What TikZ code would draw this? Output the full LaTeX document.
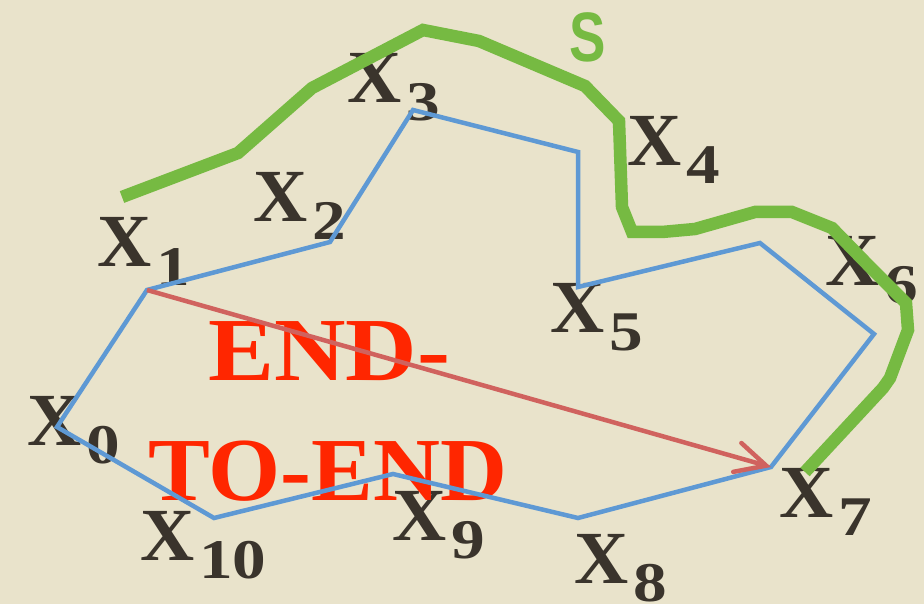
\documentclass[tikz,border=0pt]{standalone}
\usepackage{fontspec}
\setmainfont{Liberation Serif}
\setsansfont{Liberation Sans}
\usetikzlibrary{arrows.meta}
\definecolor{bg}{RGB}{233,227,203}
\definecolor{ink}{RGB}{58,52,44}
\definecolor{bl}{RGB}{94,153,212}
\definecolor{gr}{RGB}{118,186,66}
\definecolor{rl}{RGB}{208,98,94}
\definecolor{rt}{RGB}{255,38,0}
\newcommand\xlab[1]{{\fontsize{75}{75}\selectfont\bfseries X}\kern5pt\raisebox{-18pt}{\fontsize{56}{56}\selectfont\bfseries\scalebox{1.2}[1]{#1}}}
\tikzset{
  lab/.style={anchor=base west, inner sep=0pt, text=ink},
  bigred/.style={anchor=base west, inner sep=0pt, text=rt, font=\fontsize{90}{90}\selectfont\bfseries},
  polyline/.style={draw=bl, line width=4.5pt, line join=miter},
  endarrow/.style={draw=rl, line width=4.5pt, -{Straight Barb[length=30pt,width=30pt,line cap=round]}},
  sline/.style={draw=gr, line width=12.5pt, line join=miter},
}
\begin{document}
\begin{tikzpicture}[x=1pt,y=-1pt]
\fill[bg] (0,0) rectangle (924,604);
\useasboundingbox (0,0) rectangle (924,604);
% labels
\node[lab] (l0) at (27,445) {\xlab{0}};
\node[lab] (l1) at (97,267) {\xlab{1}};
\node[lab] (l2) at (253,222) {\xlab{2}};
\node[lab] (l3) at (347,103) {\xlab{3}};
\node[lab] (l4) at (627,166) {\xlab{4}};
\node[lab] (l5) at (550,332) {\xlab{5}};
\node[lab] (l6) at (825,285) {\xlab{6}};
\node[lab] (l7) at (779,517) {\xlab{7}};
\node[lab] (l8) at (574,583) {\xlab{8}};
\node[lab] (l9) at (392,540) {\xlab{9}};
\node[lab] (l10) at (140,560) {\xlab{10}};
\node[anchor=base west, inner sep=0pt, text=gr, font=\fontsize{70}{70}\selectfont\sffamily\bfseries, xscale=0.78] (s) at (569,62) {S};
% red text
\node[bigred] (t1) at (208,380) {\scalebox{1.1}[1]{END-}};
\node[bigred] (t2) at (148,500) {\scalebox{1.03}[1]{TO-END}};
% polygon vertices
\coordinate (v0) at (57,427);
\coordinate (v1) at (147,290);
\coordinate (v2) at (330,242);
\coordinate (v3) at (413,110);
\coordinate (v4) at (578,152);
\coordinate (v5) at (578,287);
\coordinate (v6) at (760,243);
\coordinate (v6b) at (874,334);
\coordinate (v7) at (771,467);
\coordinate (v8) at (578,518);
\coordinate (v9) at (393,474);
\coordinate (v10) at (214,518);
\draw[polyline] (v1) -- (v2) -- (v3) -- (v4) -- (v5) -- (v6) -- (v6b) -- (v7) -- (v8) -- (v9) -- (v10) -- (v0) -- cycle;
\draw[endarrow] (v1) -- (v7);
% green curve
\draw[sline] (122,197) -- (238,153) -- (312,88) -- (423,30) -- (479,41) -- (585,86) -- (619,121) -- (622,207) -- (632,232) -- (662,232) -- (695,229) -- (755,212) -- (792,212) -- (832,228) -- (870,267) -- (906,303) -- (908,330) -- (890,378) -- (883,388) -- (805,472);
\end{tikzpicture}
\end{document}
